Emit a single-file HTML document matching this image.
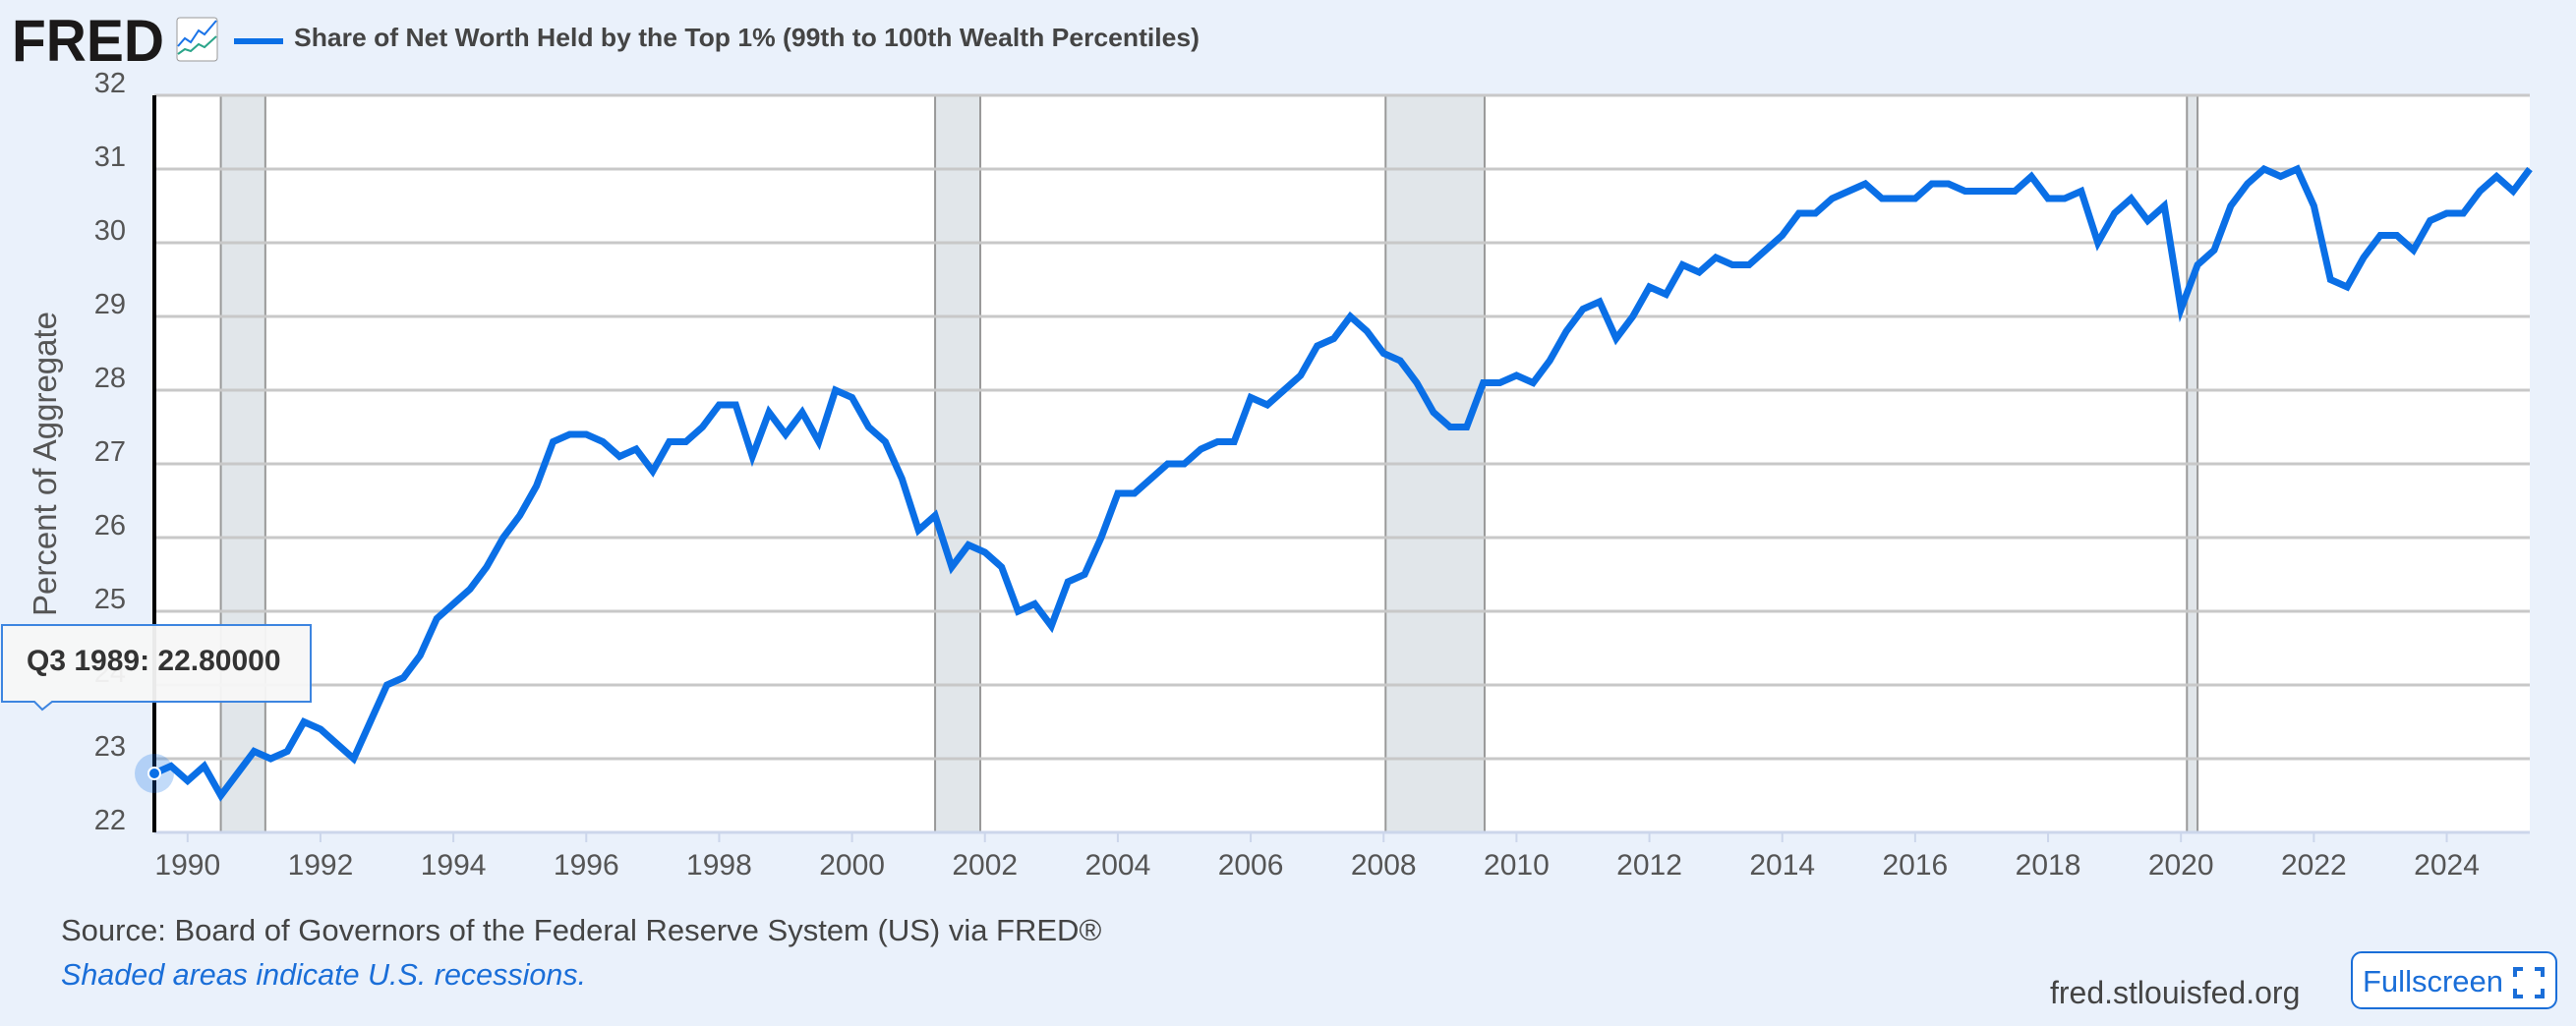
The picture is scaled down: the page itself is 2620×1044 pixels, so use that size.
<!DOCTYPE html>
<html><head><meta charset="utf-8"><style>
html,body{margin:0;padding:0;background:#eaf1fb;}
svg{display:block;font-family:"Liberation Sans",sans-serif;}
</style></head><body>
<svg id="chart" width="2620" height="1044" viewBox="0 0 2620 1044">
<rect x="0" y="0" width="2620" height="1044" fill="#eaf1fb"/>
<text x="12" y="62" font-size="60" font-weight="bold" fill="#1b1919" textLength="155" lengthAdjust="spacingAndGlyphs">FRED</text>
<g>
<rect x="180" y="18" width="41" height="44" rx="3" fill="#fff" stroke="#999" stroke-width="1"/>
<polyline points="181,47 188,39 194,43 202,31 208,35 220,21" fill="none" stroke="#1a73e8" stroke-width="2"/>
<polyline points="181,55 188,50 194,52 202,45 208,48 220,37" fill="none" stroke="#2ba58a" stroke-width="2"/>
</g>
<line x1="238" y1="42" x2="288" y2="42" stroke="#0a6fe6" stroke-width="6"/>
<text x="299" y="47" font-size="26" font-weight="bold" fill="#444" textLength="921" lengthAdjust="spacingAndGlyphs">Share of Net Worth Held by the Top 1% (99th to 100th Wealth Percentiles)</text>
<rect x="157" y="97" width="2416" height="750" fill="#fff"/>
<g id="rec"></g>
<g id="grid"></g>
<g id="ylab"></g>
<g id="xlab"></g>
<line x1="157" y1="97" x2="157" y2="847" stroke="#000" stroke-width="4"/>
<text transform="translate(57,472) rotate(-90)" text-anchor="middle" font-size="33" fill="#555">Percent of Aggregate</text>
<path id="series" fill="none" stroke="#0a6fe6" stroke-width="7" stroke-linejoin="miter"/>
<g>
<path d="M2,636 H316 V714 H53 L43,722 L35,714 H2 Z" fill="#f7f7f7" fill-opacity="0.95" stroke="#3d85e0" stroke-width="2"/>
<text x="27" y="682" font-size="30" font-weight="bold" fill="#333">Q3 1989:  22.80000</text>
</g>
<circle id="halo" r="20" fill="#0a6fe6" fill-opacity="0.25"/>
<circle id="dot" r="6" fill="#0a6fe6" stroke="#fff" stroke-width="2"/>
<text x="62" y="957" font-size="31" fill="#444">Source: Board of Governors of the Federal Reserve System (US) via FRED®</text>
<text x="62" y="1002" font-size="30.5" font-style="italic" fill="#1a6ed8">Shaded areas indicate U.S. recessions.</text>
<text x="2085" y="1021" font-size="32" fill="#444">fred.stlouisfed.org</text>
<g>
<rect x="2392" y="969" width="208" height="57" rx="10" fill="#fff" stroke="#1a6ed8" stroke-width="2"/>
<text x="2403" y="1009" font-size="31" fill="#1a6ed8">Fullscreen</text>
<path d="M2558,994 v-8 h8 M2578,986 h8 v8 M2586,1006 v8 h-8 M2566,1014 h-8 v-8" fill="none" stroke="#1a6ed8" stroke-width="4"/>
</g>
</svg>
<script>
const values = [22.8,22.9,
22.7,22.9,22.5,22.8, 23.1,23.0,23.1,23.5, 23.4,23.2,23.0,23.5, 24.0,24.1,24.4,24.9,
25.1,25.3,25.6,26.0, 26.3,26.7,27.3,27.4, 27.4,27.3,27.1,27.2, 26.9,27.3,27.3,27.5,
27.8,27.8,27.1,27.7, 27.4,27.7,27.3,28.0, 27.9,27.5,27.3,26.8, 26.1,26.3,25.6,25.9,
25.8,25.6,25.0,25.1, 24.8,25.4,25.5,26.0, 26.6,26.6,26.8,27.0, 27.0,27.2,27.3,27.3,
27.9,27.8,28.0,28.2, 28.6,28.7,29.0,28.8, 28.5,28.4,28.1,27.7, 27.5,27.5,28.1,28.1,
28.2,28.1,28.4,28.8, 29.1,29.2,28.7,29.0, 29.4,29.3,29.7,29.6, 29.8,29.7,29.7,29.9,
30.1,30.4,30.4,30.6, 30.7,30.8,30.6,30.6, 30.6,30.8,30.8,30.7, 30.7,30.7,30.7,30.9,
30.6,30.6,30.7,30.0, 30.4,30.6,30.3,30.5, 29.1,29.7,29.9,30.5, 30.8,31.0,30.9,31.0,
30.5,29.5,29.4,29.8, 30.1,30.1,29.9,30.3, 30.4,30.4,30.7,30.9, 30.7,31.0];
const startYear = 1989.5;
const yTicks = [22,23,24,25,26,27,28,29,30,31,32];
const xTicks = [1990,1992,1994,1996,1998,2000,2002,2004,2006,2008,2010,2012,2014,2016,2018,2020,2022,2024];
const recStarts = [1990.5, 2001.25, 2008.03, 2020.09];
const recEnds = [1991.17, 2001.93, 2009.52, 2020.25];

const X0=157, X1=2573, Y0=847, Y1=97;
const tMin=startYear, tMax=startYear+(values.length-1)/4;
const xs=t=>X0+(t-tMin)/(tMax-tMin)*(X1-X0);
const ys=v=>Y0-(v-22)/(32-22)*(Y0-Y1);
const NS="http://www.w3.org/2000/svg";
function mk(tag,parent,attrs){const e=document.createElementNS(NS,tag);for(const k in attrs)e.setAttribute(k,attrs[k]);parent.appendChild(e);return e;}

const rec=document.getElementById('rec');
recStarts.forEach((s,i)=>{
  const r=mk('rect',rec,{x:xs(s),y:Y1,width:xs(recEnds[i])-xs(s),height:Y0-Y1,fill:'#e1e6ea'});
  
  
  [s,recEnds[i]].forEach(t=>{const l=mk('line',rec,{x1:xs(t),x2:xs(t),y1:Y1,y2:Y0,stroke:'#999','stroke-width':2});
    
    });
});
const grid=document.getElementById('grid'), ylab=document.getElementById('ylab'), xlab=document.getElementById('xlab');
yTicks.forEach(v=>{
  const l=mk('line',grid,{x1:X0,x2:X1,y1:ys(v),y2:ys(v),stroke:'#c8c8c8','stroke-width':3});
  
  
  const t=mk('text',ylab,{x:128,y:ys(v)-3,'text-anchor':'end','font-size':29,fill:'#555'});
  t.textContent=v;
  
  
});
xTicks.forEach(y=>{
  const l=mk('line',xlab,{x1:xs(y),x2:xs(y),y1:Y0,y2:Y0+10,stroke:'#ccd6eb','stroke-width':2});
  
  
  const t=mk('text',xlab,{x:xs(y),y:890,'text-anchor':'middle','font-size':30,fill:'#555'});
  t.textContent=y;
  
  
});
const bl=mk('line',xlab,{x1:X0,x2:X1,y1:Y0,y2:Y0,stroke:'#ccd6eb','stroke-width':3});


document.getElementById('series').setAttribute('d',values.map((v,i)=>(i?'L':'M')+xs(startYear+i/4).toFixed(1)+','+ys(v).toFixed(1)).join(' '));
['halo','dot'].forEach(id=>{const c=document.getElementById(id);c.setAttribute('cx',xs(startYear));c.setAttribute('cy',ys(values[0]));});
</script>
</body></html>
